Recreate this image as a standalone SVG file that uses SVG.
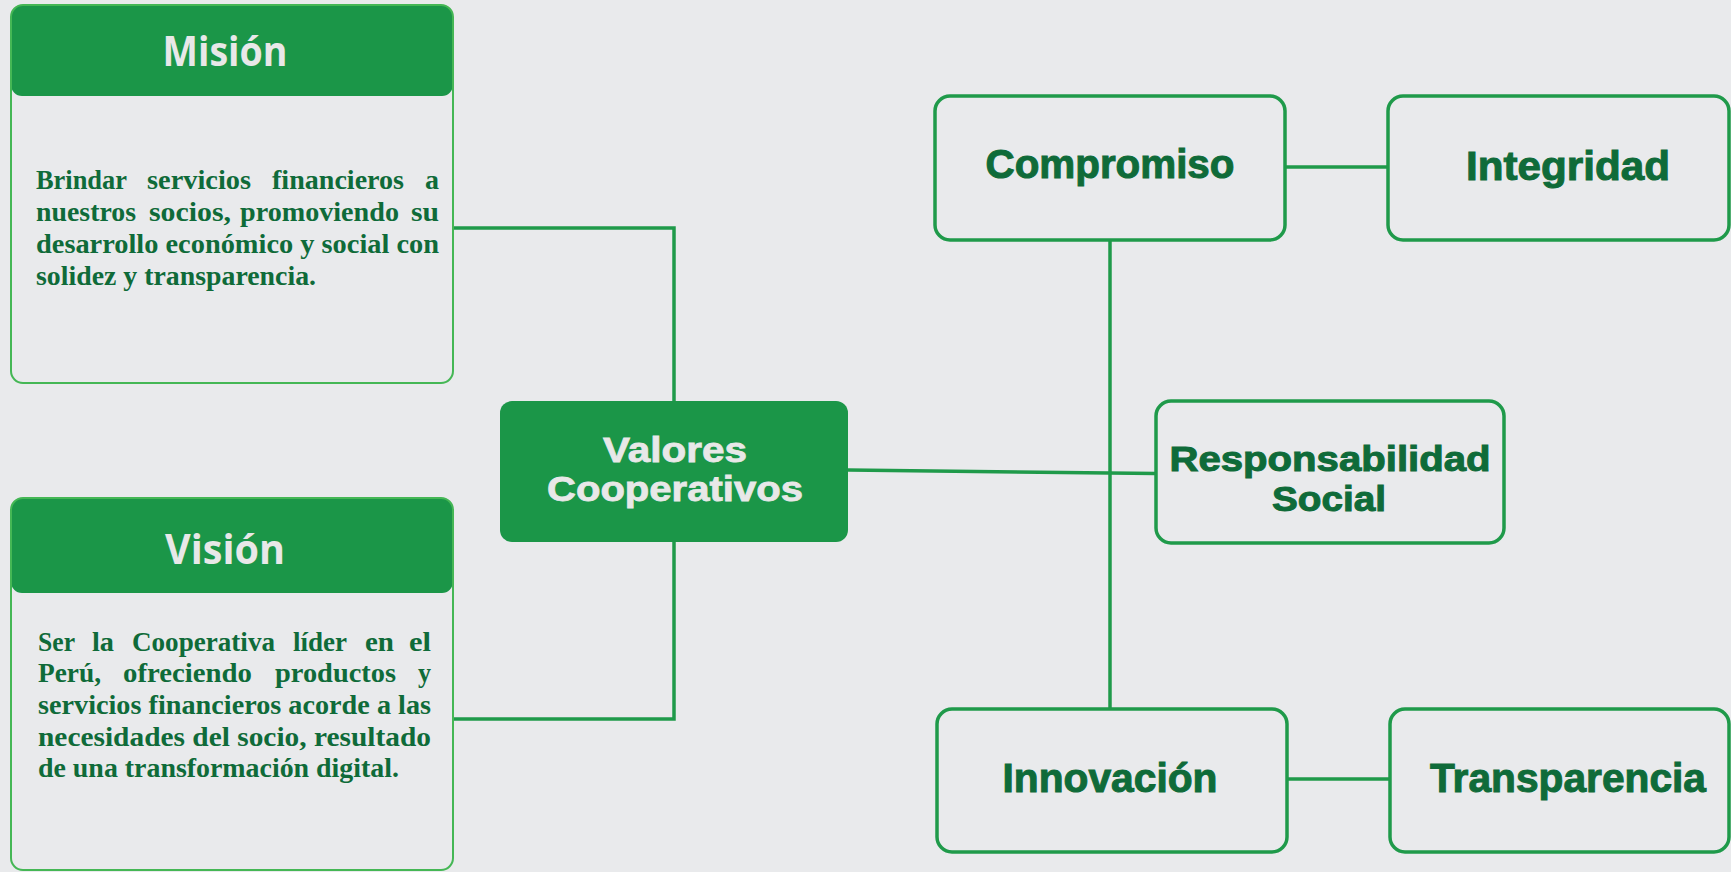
<svg xmlns="http://www.w3.org/2000/svg" width="1731" height="872" viewBox="0 0 1731 872">
<style>
.bg{fill:#e9eaec}
.card{fill:none;stroke:#45b755;stroke-width:2}
.head{fill:#1b9648}
.title{font-family:"Open Sans","Liberation Sans",sans-serif;font-weight:700;font-size:42px;fill:#e8e8e8;text-anchor:middle}
.body{font-family:"Liberation Serif","DejaVu Serif",serif;font-weight:700;font-size:27px;fill:#0f6b39}
.core{fill:#1b9648}
.coretxt{font-family:"Liberation Sans","Noto Sans",sans-serif;font-weight:700;font-size:35px;fill:#e8e8e8;stroke:#e8e8e8;stroke-width:0.8;text-anchor:middle}
.val{fill:none;stroke:#1f9a4a;stroke-width:3.5}
.valtxt{font-family:"Liberation Sans","Noto Sans",sans-serif;font-weight:700;font-size:40px;fill:#0f6b39;stroke:#0f6b39;stroke-width:1;text-anchor:middle}
.valtxt2{font-family:"Liberation Sans","Noto Sans",sans-serif;font-weight:700;font-size:35px;fill:#0f6b39;stroke:#0f6b39;stroke-width:1;text-anchor:middle}
.conn{fill:none;stroke:#1f9a4a;stroke-width:3.5}
</style>
<rect class="bg" x="0" y="0" width="1731" height="872"/>

<g id="connectors">
<path class="conn" d="M453,228 H674 V401"/>
<path class="conn" d="M674,542 V719 H453"/>
<path class="conn" d="M848,470 L1156,473.5"/>
<path class="conn" d="M1110,240 V709"/>
<path class="conn" d="M1285,167 H1388"/>
<path class="conn" d="M1287,779 H1390"/>
</g>

<g id="mision">
<rect class="head" x="11" y="5" width="442" height="91" rx="11"/>
<rect class="card" x="11" y="5" width="442" height="378" rx="12"/>
<text class="title" x="225" y="66" textLength="125" lengthAdjust="spacingAndGlyphs">Misión</text>
<text class="body" x="36" y="189" textLength="91" lengthAdjust="spacingAndGlyphs">Brindar</text>
<text class="body" x="147" y="189" textLength="104" lengthAdjust="spacingAndGlyphs">servicios</text>
<text class="body" x="272" y="189" textLength="132" lengthAdjust="spacingAndGlyphs">financieros</text>
<text class="body" x="425" y="189" textLength="14" lengthAdjust="spacingAndGlyphs">a</text>
<text class="body" x="36" y="221" textLength="100" lengthAdjust="spacingAndGlyphs">nuestros</text>
<text class="body" x="149" y="221" textLength="82" lengthAdjust="spacingAndGlyphs">socios,</text>
<text class="body" x="240" y="221" textLength="159" lengthAdjust="spacingAndGlyphs">promoviendo</text>
<text class="body" x="411" y="221" textLength="28" lengthAdjust="spacingAndGlyphs">su</text>
<text class="body" x="36" y="253" textLength="403" lengthAdjust="spacingAndGlyphs">desarrollo económico y social con</text>
<text class="body" x="36" y="285" textLength="280" lengthAdjust="spacingAndGlyphs">solidez y transparencia.</text>
</g>

<g id="vision">
<rect class="head" x="11" y="498" width="442" height="95" rx="11"/>
<rect class="card" x="11" y="498" width="442" height="372" rx="12"/>
<text class="title" x="225" y="564" textLength="120" lengthAdjust="spacingAndGlyphs">Visión</text>
<text class="body" x="38" y="651" textLength="37" lengthAdjust="spacingAndGlyphs">Ser</text>
<text class="body" x="92" y="651" textLength="22" lengthAdjust="spacingAndGlyphs">la</text>
<text class="body" x="132" y="651" textLength="143" lengthAdjust="spacingAndGlyphs">Cooperativa</text>
<text class="body" x="293" y="651" textLength="54" lengthAdjust="spacingAndGlyphs">líder</text>
<text class="body" x="365" y="651" textLength="29" lengthAdjust="spacingAndGlyphs">en</text>
<text class="body" x="409" y="651" textLength="22" lengthAdjust="spacingAndGlyphs">el</text>
<text class="body" x="38" y="682" textLength="63" lengthAdjust="spacingAndGlyphs">Perú,</text>
<text class="body" x="123" y="682" textLength="129" lengthAdjust="spacingAndGlyphs">ofreciendo</text>
<text class="body" x="275" y="682" textLength="121" lengthAdjust="spacingAndGlyphs">productos</text>
<text class="body" x="418" y="682" textLength="13" lengthAdjust="spacingAndGlyphs">y</text>
<text class="body" x="38" y="714" textLength="393" lengthAdjust="spacingAndGlyphs">servicios financieros acorde a las</text>
<text class="body" x="38" y="746" textLength="393" lengthAdjust="spacingAndGlyphs">necesidades del socio, resultado</text>
<text class="body" x="38" y="777" textLength="361" lengthAdjust="spacingAndGlyphs">de una transformación digital.</text>
</g>

<g id="valores">
<rect class="core" x="500" y="401" width="348" height="141" rx="12"/>
<text class="coretxt" x="675" y="461.5" textLength="144" lengthAdjust="spacingAndGlyphs">Valores</text>
<text class="coretxt" x="675" y="501" textLength="256" lengthAdjust="spacingAndGlyphs">Cooperativos</text>
</g>

<g id="compromiso">
<rect class="val" x="935" y="96" width="350" height="144" rx="15"/>
<text class="valtxt" x="1110" y="178" textLength="249" lengthAdjust="spacingAndGlyphs">Compromiso</text>
</g>

<g id="integridad">
<rect class="val" x="1388" y="96" width="341" height="144" rx="15"/>
<text class="valtxt" x="1568" y="180" textLength="204" lengthAdjust="spacingAndGlyphs">Integridad</text>
</g>

<g id="responsabilidad">
<rect class="val" x="1156" y="401" width="348" height="142" rx="15"/>
<text class="valtxt2" x="1330" y="471" textLength="321" lengthAdjust="spacingAndGlyphs">Responsabilidad</text>
<text class="valtxt2" x="1329" y="511" textLength="114" lengthAdjust="spacingAndGlyphs">Social</text>
</g>

<g id="innovacion">
<rect class="val" x="937" y="709" width="350" height="143" rx="15"/>
<text class="valtxt" x="1110" y="792" textLength="215" lengthAdjust="spacingAndGlyphs">Innovación</text>
</g>

<g id="transparencia">
<rect class="val" x="1390" y="709" width="339" height="143" rx="15"/>
<text class="valtxt" x="1568" y="792" textLength="276" lengthAdjust="spacingAndGlyphs">Transparencia</text>
</g>
</svg>
